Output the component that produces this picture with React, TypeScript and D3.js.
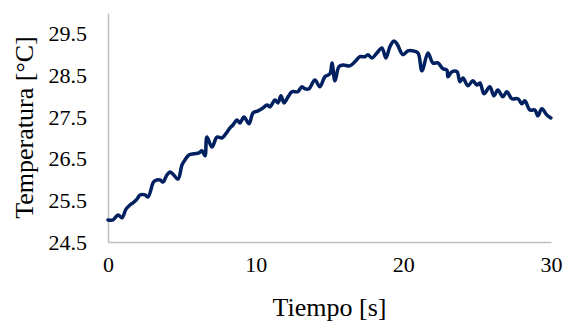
import { useRef, useEffect } from "react";
import * as d3 from "d3";

// tiempo [s] and temperatura [°C]
const tiempo = [
  0, 0.34, 0.68, 0.95, 1.22, 1.49, 1.69, 1.96, 2.17, 2.51, 2.71, 3.05, 3.18, 3.52, 3.72, 3.99,
  4.2, 4.4, 4.74, 5.01, 5.21, 5.48, 5.82, 6.16, 6.36, 6.57, 6.7, 7.04, 7.38, 7.72, 8.06, 8.26,
  8.46, 8.73, 8.94, 9.21, 9.55, 9.82, 10.16, 10.49, 10.77, 10.97, 11.31, 11.51, 11.71, 11.92,
  12.12, 12.46, 12.86, 13.13, 13.34, 13.61, 14.01, 14.35, 14.69, 15.03, 15.17, 15.37, 15.64,
  15.91, 16.38, 16.72, 17.06, 17.4, 17.6, 17.87, 18.21, 18.55, 18.82, 19.09, 19.36, 19.57,
  19.97, 20.31, 20.65, 20.99, 21.26, 21.67, 22.0, 22.34, 22.68, 22.95, 23.02, 23.29, 23.63,
  23.83, 24.04, 24.37, 24.71, 24.98, 25.19, 25.46, 25.86, 26.13, 26.4, 26.74, 27.01, 27.35,
  27.76, 28.03, 28.23, 28.57, 28.91, 29.11, 29.38, 29.72, 29.99,
];
const temperatura = [
  25.03, 25.03, 25.15, 25.08, 25.29, 25.39, 25.44, 25.53, 25.63, 25.63, 25.58, 25.92, 25.97,
  25.99, 25.94, 26.11, 26.18, 26.13, 26.01, 26.35, 26.47, 26.59, 26.62, 26.64, 26.69, 26.57,
  27.02, 26.78, 27.02, 27.0, 27.14, 27.24, 27.31, 27.43, 27.36, 27.5, 27.34, 27.6, 27.65,
  27.72, 27.79, 27.75, 27.91, 27.84, 28.01, 27.84, 27.94, 28.11, 28.11, 28.23, 28.18, 28.18,
  28.39, 28.23, 28.47, 28.54, 28.8, 28.37, 28.71, 28.75, 28.73, 28.83, 28.95, 28.95, 29.0,
  28.92, 29.04, 29.16, 28.92, 29.19, 29.33, 29.26, 29.0, 29.09, 29.09, 29.04, 28.61, 29.04,
  28.8, 28.8, 28.66, 28.63, 28.47, 28.59, 28.59, 28.35, 28.44, 28.25, 28.37, 28.27, 28.32,
  28.06, 28.23, 28.01, 28.15, 27.99, 28.11, 27.94, 27.94, 27.82, 27.89, 27.67, 27.67, 27.53,
  27.7, 27.55, 27.48,
];
const xTicks = [0, 10, 20, 30];
const yTicks = [24.5, 25.5, 26.5, 27.5, 28.5, 29.5];

export default function App() {
  const svgRef = useRef<SVGSVGElement>(null);

  useEffect(() => {
    if (!svgRef.current) return;
    const width = 565;
    const height = 321;
    const margin = { top: 13, right: 14, bottom: 79, left: 108 };
    const innerW = width - margin.left - margin.right;
    const innerH = height - margin.top - margin.bottom;

    const svg = d3.select(svgRef.current);
    svg.selectAll("*").remove();

    const x = d3.scaleLinear().domain([0, 30]).range([0, innerW]);
    const y = d3.scaleLinear().domain([24.5, 30]).range([innerH, 0]);

    const g = svg
      .append("g")
      .attr("transform", `translate(${margin.left},${margin.top})`)
      .attr("font-family", "'Liberation Serif', 'Times New Roman', serif");

    // X axis
    g.append("g")
      .attr("transform", `translate(0,${innerH})`)
      .call(d3.axisBottom(x).tickValues(xTicks).tickSize(0).tickPadding(14))
      .call((g) => g.select(".domain").attr("stroke", "#bfbfbf").attr("stroke-width", 1.5))
      .call((g) =>
        g
          .selectAll(".tick text")
          .attr("fill", "#000")
          .attr("font-size", 22)
          .attr("font-family", "'Liberation Serif', serif")
      );

    // Y axis
    g.append("g")
      .call(
        d3
          .axisLeft(y)
          .tickValues(yTicks)
          .tickSize(0)
          .tickPadding(21)
          .tickFormat((d) => d3.format(".1f")(d as number))
      )
      .call((g) => g.select(".domain").attr("stroke", "#bfbfbf").attr("stroke-width", 1.5))
      .call((g) =>
        g
          .selectAll(".tick text")
          .attr("fill", "#000")
          .attr("font-size", 22)
          .attr("font-family", "'Liberation Serif', serif")
      );

    // Line
    const pts = tiempo.map((t, i) => [t, temperatura[i]] as [number, number]);
    const line = d3
      .line<[number, number]>()
      .x((d) => x(d[0]))
      .y((d) => y(d[1]))
      .curve(d3.curveCatmullRom.alpha(0.5));

    g.append("path")
      .datum(pts)
      .attr("fill", "none")
      .attr("stroke", "#002060")
      .attr("stroke-width", 3.5)
      .attr("stroke-linejoin", "round")
      .attr("stroke-linecap", "round")
      .attr("d", line);

    // Axis titles
    svg
      .append("text")
      .attr("x", margin.left + innerW / 2)
      .attr("y", 316)
      .attr("text-anchor", "middle")
      .attr("font-family", "'Liberation Serif', serif")
      .attr("font-size", 26)
      .attr("fill", "#000")
      .text("Tiempo [s]");

    svg
      .append("text")
      .attr("transform", `translate(33,${margin.top + innerH / 2}) rotate(-90)`)
      .attr("text-anchor", "middle")
      .attr("font-family", "'Liberation Serif', serif")
      .attr("font-size", 26)
      .attr("fill", "#000")
      .text("Temperatura [°C]");
  }, []);

  return (
    <div style={{ position: "absolute", left: 0, top: 0 }}>
      <svg ref={svgRef} width={565} height={321} style={{ display: "block" }} />
    </div>
  );
}
